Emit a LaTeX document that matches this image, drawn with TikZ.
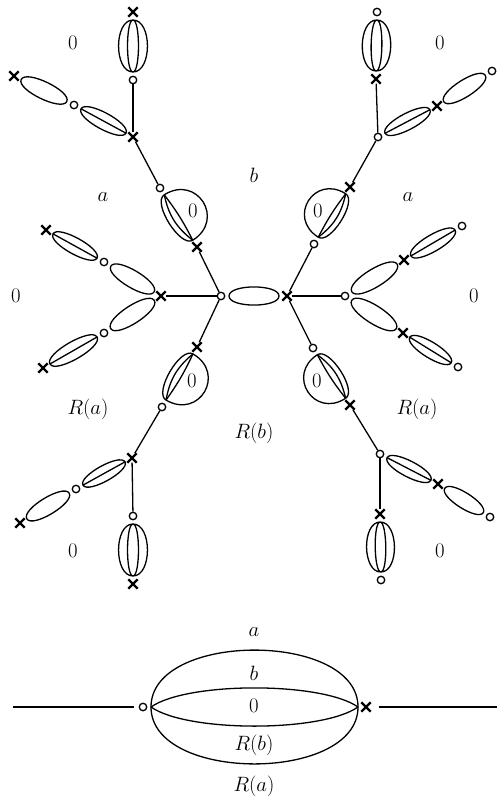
\documentclass[tikz,border=0pt]{standalone}
\usepackage{tikz}
\usetikzlibrary{calc,shapes.misc}

\begin{document}
\begin{tikzpicture}[x=1pt,y=-1pt,line width=1.3pt,
    vo/.style={circle,draw,line width=1.3pt,minimum size=7.5pt,inner sep=0pt,fill=white},
    vx/.style={cross out,draw,line width=2.4pt,minimum size=7pt,inner sep=0pt},
    lbl/.style={font=\huge}]
    \useasboundingbox (0,0) rectangle (499,798);

    % Centre pair
    \node[vo] (oC) at (221,296) {};
    \node[vx] (xC) at (287,296) {};

    % Left side
    \node[vx] (xL) at (161,296) {};
    \node[vo] (oL1) at (104,262) {};
    \node[vx] (xL1) at (46,230) {};
    \node[vo] (oL2) at (104,333) {};
    \node[vx] (xL2) at (43,368) {};

    % Top left branch
    \node[vx] (xTL) at (197,247) {};
    \node[vo] (oTL) at (160,188) {};
    \node[vx] (xTL2) at (133,137) {};
    \node[vo] (oTL3) at (133,80) {};
    \node[vx] (xTL4) at (133,12) {};
    \node[vo] (oTL5) at (74,105) {};
    \node[vx] (xTL6) at (14,76) {};

    % Bottom left branch
    \node[vx] (xBL) at (197,347) {};
    \node[vo] (oBL) at (162,407) {};
    \node[vx] (xBL2) at (132,458) {};
    \node[vo] (oBL3) at (133,516) {};
    \node[vx] (xBL4) at (133,584) {};
    \node[vo] (oBL5) at (76,489) {};
    \node[vx] (xBL6) at (20,523) {};

    % Right side
    \node[vo] (oR) at (345,296) {};
    \node[vx] (xR1) at (404,260) {};
    \node[vo] (oR1) at (462,226) {};
    \node[vx] (xR2) at (403,333) {};
    \node[vo] (oR2) at (458,367) {};

    % Top right branch
    \node[vo] (oTR) at (314,244) {};
    \node[vx] (xTR) at (350,187) {};
    \node[vo] (oTR2) at (378,137) {};
    \node[vx] (xTR3) at (376,79) {};
    \node[vo] (oTR4) at (377,12) {};
    \node[vx] (xTR5) at (437,106) {};
    \node[vo] (oTR6) at (492,71) {};

    % Bottom right branch
    \node[vo] (oBR) at (313,348) {};
    \node[vx] (xBR) at (350,405) {};
    \node[vo] (oBR2) at (380,454) {};
    \node[vx] (xBR3) at (380,514) {};
    \node[vo] (oBR4) at (381,580) {};
    \node[vx] (xBR5) at (438,484) {};
    \node[vo] (oBR6) at (490,517) {};

    % Plain edges
    \foreach \p/\q in {oC/xL,oC/xTL,oC/xBL,xC/oR,xC/oTR,xC/oBR,
        oTL/xTL2,xTL2/oTL3,oBL/xBL2,xBL2/oBL3,
        xTR/oTR2,oTR2/xTR3,xBR/oBR2,oBR2/xBR3}
        \draw (\p) -- (\q);

    % Single loops
    \foreach \p/\q/\l in {oC/xC/.62,xL/oL1/.58,xL/oL2/.58,oTL5/xTL6/.58,oBL5/xBL6/.58,
        oR/xR1/.58,oR/xR2/.58,xTR5/oTR6/.58,xBR5/oBR6/.58}
        \draw ($(\p)!8pt!(\q)$) to[bend left=90,looseness=\l] ($(\q)!8pt!(\p)$)
            to[bend left=90,looseness=\l] ($(\p)!8pt!(\q)$);

    % Double loops
    \foreach \p/\q in {oL1/xL1,oL2/xL2,xTL2/oTL5,xBL2/oBL5,
        xR1/oR1,xR2/oR2,oTR2/xTR5,oBR2/xBR5}
        \draw ($(\p)!8pt!(\q)$) to[bend left=90,looseness=.55] ($(\q)!8pt!(\p)$)
            to[bend left=90,looseness=.55] ($(\p)!8pt!(\q)$) -- ($(\q)!8pt!(\p)$);

    % Triple loops
    \foreach \p/\q in {oTL3/xTL4,oBL3/xBL4,xTR3/oTR4,xBR3/oBR4}
        \draw ($(\p)!8pt!(\q)$) to[bend left=90,looseness=.95] ($(\q)!8pt!(\p)$)
            to[bend left=90,looseness=.95] ($(\p)!8pt!(\q)$)
            to[bend left=90,looseness=.36] ($(\q)!8pt!(\p)$)
            to[bend left=90,looseness=.36] ($(\p)!8pt!(\q)$);

    % Loops with a 0 face
    \foreach \p/\q in {oTL/xTL,oTR/xTR,xBL/oBL,xBR/oBR}{
        \draw ($(\p)!8pt!(\q)$) to[bend left=90,looseness=1.85] ($(\q)!8pt!(\p)$);
        \draw ($(\p)!8pt!(\q)$) to[bend right=90,looseness=.7] ($(\q)!8pt!(\p)$);
        \draw ($(\p)!8pt!(\q)$) to[bend right=20] ($(\q)!8pt!(\p)$);
        \draw ($(\p)!8pt!(\q)$) to[bend left=5] ($(\q)!8pt!(\p)$);
    }

    % Face labels
    \node[lbl] (f1) at (73,43) {$0$};
    \node[lbl] (f2) at (440,43) {$0$};
    \node[lbl] (f3) at (254,175) {$b$};
    \node[lbl] (f4) at (103,197) {$a$};
    \node[lbl] (f5) at (408,197) {$a$};
    \node[lbl] (f6) at (16,296) {$0$};
    \node[lbl] (f7) at (474,296) {$0$};
    \node[lbl] (f8) at (88,409) {$R(a)$};
    \node[lbl] (f9) at (417,409) {$R(a)$};
    \node[lbl] (f10) at (254,433) {$R(b)$};
    \node[lbl] (f11) at (73,551) {$0$};
    \node[lbl] (f12) at (440,551) {$0$};
    \node[lbl] (g1) at (193,211) {$0$};
    \node[lbl] (g2) at (318,211) {$0$};
    \node[lbl] (g3) at (192,381) {$0$};
    \node[lbl] (g4) at (317,381) {$0$};

    % Melon diagram
    \node[vo] (oD) at (143,707) {};
    \node[vx] (xD) at (366,707) {};
    \coordinate (dL) at (13,707);
    \coordinate (dR) at (497,707);
    \coordinate (dl) at ($(oD)!8pt!(xD)$);
    \coordinate (dr) at ($(xD)!8pt!(oD)$);
    \draw[shorten >=5pt] (dL) -- (oD);
    \draw[shorten <=8pt] (xD) -- (dR);
    \draw (dl) to[out=90,in=90,looseness=.94] (dr);
    \draw (dl) to[bend left=35,looseness=.55] (dr);
    \draw (dl) to[bend right=35,looseness=.55] (dr);
    \draw (dl) to[out=-90,in=-90,looseness=.94] (dr);

    \node[lbl] (m1) at (254,632) {$a$};
    \node[lbl] (m2) at (254,673) {$b$};
    \node[lbl] (m3) at (254,706) {$0$};
    \node[lbl] (m4) at (254,745) {$R(b)$};
    \node[lbl] (m5) at (254,786) {$R(a)$};
\end{tikzpicture}
\end{document}
